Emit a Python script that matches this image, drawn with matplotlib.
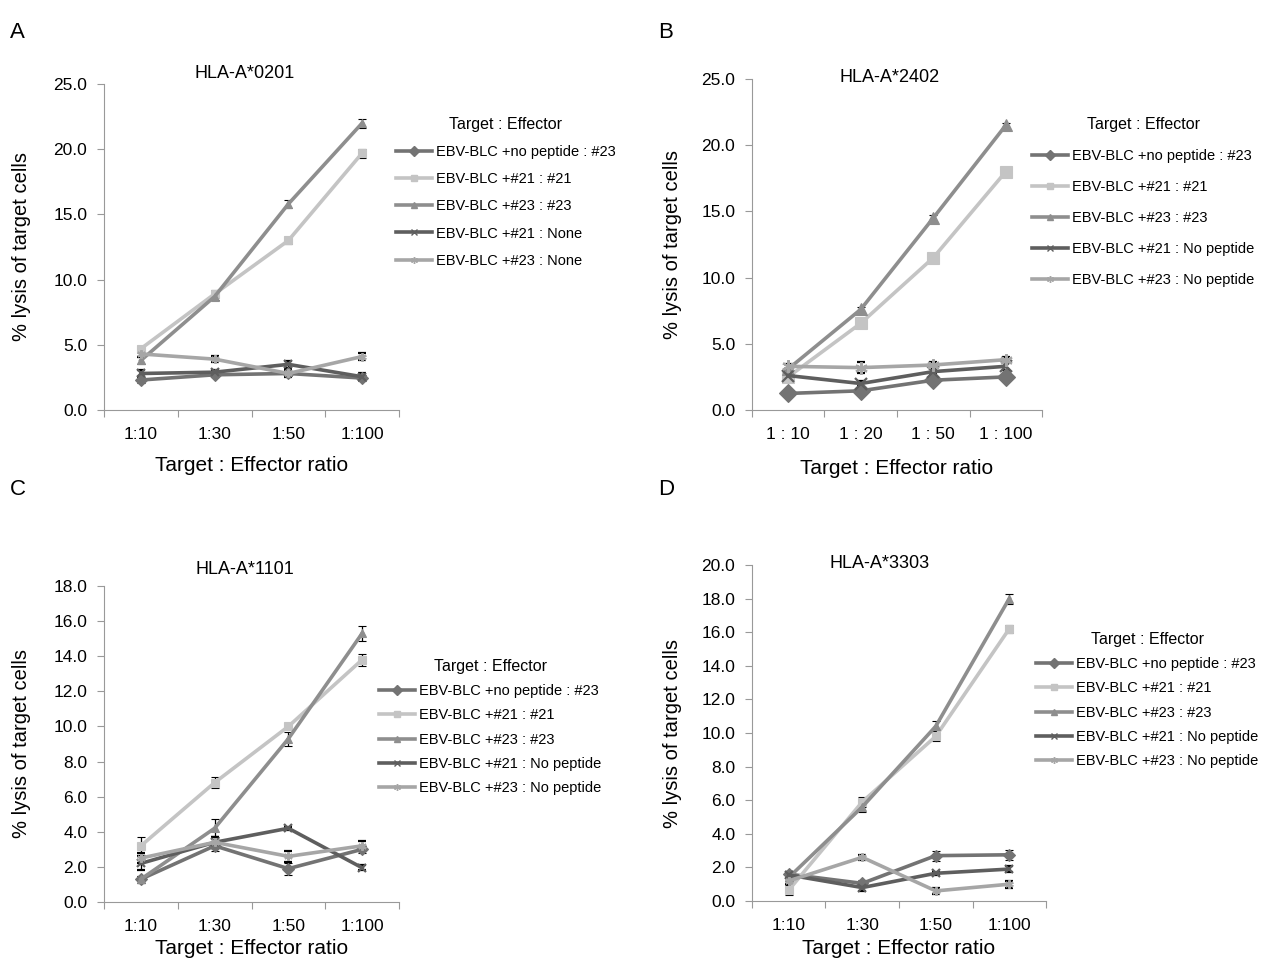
import matplotlib
matplotlib.use("Agg")
import matplotlib.pyplot as plt
from matplotlib.lines import Line2D
import numpy as np

plt.rcParams['font.family'] = ['Liberation Sans', 'DejaVu Sans']

# ---------------- data ----------------
series_A = ["EBV-BLC +no peptide : #23", "EBV-BLC +#21 : #21", "EBV-BLC +#23 : #23",
            "EBV-BLC +#21 : None", "EBV-BLC +#23 : None"]
series_BCD = ["EBV-BLC +no peptide : #23", "EBV-BLC +#21 : #21", "EBV-BLC +#23 : #23",
              "EBV-BLC +#21 : No peptide", "EBV-BLC +#23 : No peptide"]

cats_A = ["1:10", "1:30", "1:50", "1:100"]
cats_B = ["1 : 10", "1 : 20", "1 : 50", "1 : 100"]
cats_C = ["1:10", "1:30", "1:50", "1:100"]
cats_D = ["1:10", "1:30", "1:50", "1:100"]

A_nopep = [2.3, 2.7, 2.8, 2.45]
A_21_21 = [4.7, 8.9, 13.0, 19.7]
A_23_23 = [3.8, 8.7, 15.8, 22.0]
A_21_none = [2.8, 2.9, 3.5, 2.55]
A_23_none = [4.3, 3.9, 2.8, 4.1]
A_err = [[0.2, 0.2, 0.2, 0.25], [0.2, 0.3, 0.25, 0.35], [0.3, 0.3, 0.3, 0.35],
         [0.25, 0.2, 0.25, 0.25], [0.2, 0.25, 0.3, 0.3]]

B_nopep = [1.25, 1.45, 2.25, 2.5]
B_21_21 = [2.5, 6.55, 11.5, 18.0]
B_23_23 = [3.1, 7.6, 14.5, 21.5]
B_21_none = [2.6, 2.0, 2.9, 3.3]
B_23_none = [3.3, 3.2, 3.4, 3.8]
B_err = [[0.1, 0.1, 0.1, 0.1], [0.1, 0.1, 0.1, 0.1], [0.1, 0.2, 0.2, 0.2],
         [0.3, 0.2, 0.2, 0.3], [0.2, 0.4, 0.2, 0.2]]

C_nopep = [1.3, 3.2, 1.9, 3.0]
C_21_21 = [3.2, 6.8, 10.0, 13.8]
C_23_23 = [1.3, 4.2, 9.3, 15.3]
C_21_none = [2.2, 3.4, 4.2, 1.95]
C_23_none = [2.5, 3.4, 2.6, 3.2]
C_err = [[0.2, 0.3, 0.35, 0.2], [0.5, 0.3, 0.1, 0.35], [0.2, 0.5, 0.4, 0.45],
         [0.4, 0.3, 0.1, 0.15], [0.3, 0.3, 0.3, 0.3]]

D_nopep = [1.6, 1.05, 2.7, 2.75]
D_21_21 = [0.65, 5.9, 9.8, 16.2]
D_23_23 = [1.4, 5.6, 10.4, 18.0]
D_21_none = [1.55, 0.8, 1.65, 1.9]
D_23_none = [1.2, 2.6, 0.6, 1.0]
D_err = [[0.2, 0.2, 0.3, 0.3], [0.3, 0.3, 0.3, 0.25], [0.2, 0.3, 0.3, 0.3],
         [0.2, 0.2, 0.1, 0.2], [0.2, 0.15, 0.2, 0.2]]

# ---------------- style ----------------
colors = ["#737373", "#c4c4c4", "#8e8e8e", "#5e5e5e", "#a6a6a6"]
markers = ["D", "s", "^", "x", (6, 2, 0)]

W, H = 1263, 960
fig = plt.figure(figsize=(W / 100, H / 100), dpi=100)


def box(l, t, r, b):
    return [l / W, 1 - b / H, (r - l) / W, (b - t) / H]


def panel(letter, letter_xy, rect, title, title_xy, cats, data, errs, names,
          ymax, ystep, ms, leg_xy, leg_spacing, xlabel_y, ylabel_x):
    ax = fig.add_axes(box(*rect))
    x = np.arange(len(cats))
    for vals, e, c, m, n in zip(data, errs, colors, markers, names):
        ax.errorbar(x, vals, yerr=e, color=c, marker=m, markersize=ms,
                    markeredgewidth=1.6 if (m == "x" or isinstance(m, tuple)) else 0.8,
                    linewidth=2.6, ecolor="black", elinewidth=0.9, capsize=3,
                    capthick=0.9, label=n, zorder=3)
    ax.set_xlim(-0.5, len(cats) - 0.5)
    ax.set_ylim(0, ymax)
    yt = np.arange(0, ymax + 1e-6, ystep)
    ax.set_yticks(yt)
    ax.set_yticklabels([f"{v:.1f}" for v in yt], fontsize=12.5)
    ax.set_xticks(np.arange(-0.5, len(cats)), labels=[])
    ax.set_xticks(x, minor=True)
    ax.set_xticklabels(cats, minor=True, fontsize=12.5)
    ax.tick_params(axis="x", which="minor", length=0, pad=12)
    ax.tick_params(axis="x", which="major", length=5, color="#999999")
    ax.tick_params(axis="y", length=5, color="#999999", pad=7)
    for s in ("top", "right"):
        ax.spines[s].set_visible(False)
    for s in ("left", "bottom"):
        ax.spines[s].set_color("#999999")
    pos = ax.get_position()
    fig.text(ylabel_x / W, pos.y0 + pos.height / 2, "% lysis of target cells",
             fontsize=14.5, rotation=90, ha="center", va="center")
    fig.text(pos.x0 + pos.width / 2, 1 - xlabel_y / H,
             "Target : Effector ratio", fontsize=15, ha="center", va="center")
    fig.text(title_xy[0] / W, 1 - title_xy[1] / H, title, fontsize=13,
             ha="center", va="center")
    fig.text(letter_xy[0] / W, 1 - letter_xy[1] / H, letter, fontsize=16,
             ha="left", va="center")
    handles = [Line2D([], [], color=c, marker=m, markersize=5, linewidth=2.6,
                      markeredgewidth=1.0) for c, m in zip(colors, markers)]
    fig.legend(handles, names, loc="upper left",
               bbox_to_anchor=(leg_xy[0] / W, 1 - leg_xy[1] / H),
               frameon=False, fontsize=10.5, title="Target : Effector",
               title_fontsize=11.5, handlelength=2.5, handletextpad=0.25,
               labelspacing=leg_spacing, borderaxespad=0, borderpad=0)
    return ax


panel("A", (10, 32), (104, 84, 399, 410), "HLA-A*0201", (245, 73), cats_A,
      [A_nopep, A_21_21, A_23_23, A_21_none, A_23_none], A_err, series_A,
      25, 5, 6, (396, 117), 0.9, 466, 22)
panel("B", (658, 32), (752, 79, 1042, 410), "HLA-A*2402", (890, 77), cats_B,
      [B_nopep, B_21_21, B_23_23, B_21_none, B_23_none], B_err, series_BCD,
      25, 5, 9, (1032, 117), 1.17, 469, 672)
panel("C", (10, 490), (104, 586, 399, 902), "HLA-A*1101", (245, 570), cats_C,
      [C_nopep, C_21_21, C_23_23, C_21_none, C_23_none], C_err, series_BCD,
      18, 2, 6, (379, 659), 0.7, 948, 22)
panel("D", (658, 490), (752, 565, 1046, 901), "HLA-A*3303", (880, 564), cats_D,
      [D_nopep, D_21_21, D_23_23, D_21_none, D_23_none], D_err, series_BCD,
      20, 2, 6, (1036, 632), 0.7, 948, 672)

fig.savefig("out.png", dpi=100)
